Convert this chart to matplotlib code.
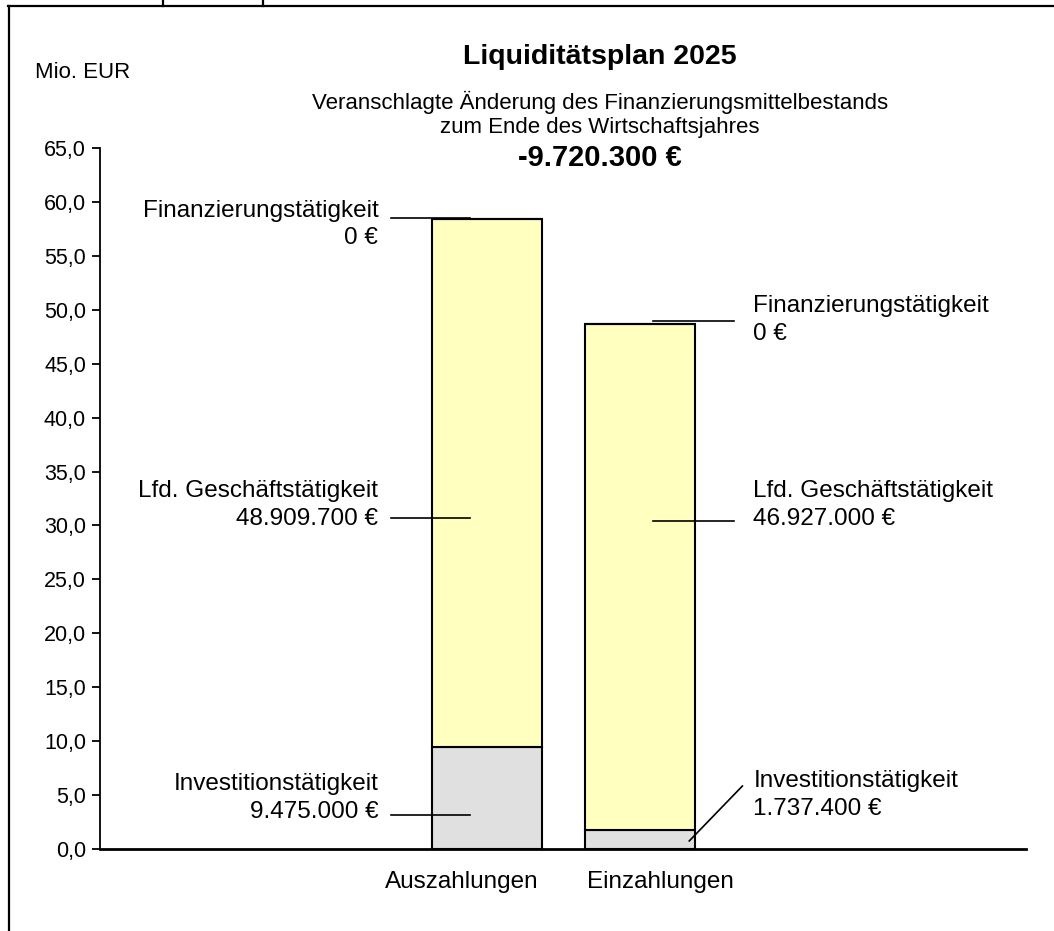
import matplotlib
matplotlib.use("Agg")
import matplotlib.pyplot as plt
from matplotlib.lines import Line2D
import matplotlib.transforms as mtransforms

plt.rcParams['font.family'] = ['Liberation Sans', 'DejaVu Sans']

# ---------------- data ----------------
categories = ['Auszahlungen', 'Einzahlungen']
segment_names = ['Investitionstätigkeit', 'Lfd. Geschäftstätigkeit', 'Finanzierungstätigkeit']
invest = [9.4750, 1.7374]      # Mio. EUR
lfd = [48.9097, 46.9270]       # Mio. EUR
fin = [0.0, 0.0]               # Mio. EUR
yticks = [0, 5, 10, 15, 20, 25, 30, 35, 40, 45, 50, 55, 60, 65]
title = 'Liquiditätsplan 2025'
subtitle = 'Veranschlagte Änderung des Finanzierungsmittelbestands\nzum Ende des Wirtschaftsjahres'
unit_label = 'Mio. EUR'

colors = ['#E0E0E0', '#FFFFC0', '#FFFFC0']


def eur(v_mio):
    s = f"{round(v_mio * 1e6):,}".replace(',', '.')
    return f"{s} €"


def de1(v):
    return f"{v:.1f}".replace('.', ',')


change = (invest[1] + lfd[1] + fin[1]) - (invest[0] + lfd[0] + fin[0])

# ---------------- figure ----------------
W, H = 1054, 931
fig = plt.figure(figsize=(W / 100, H / 100), dpi=100)
ax = fig.add_axes([100 / W, 1 - 849 / H, 926 / W, 701 / H])

x = [0, 1]
width = 0.72
series = [invest, lfd, fin]
bottoms = [0.0, 0.0]
tops = []
for vals, col in zip(series, colors):
    ax.bar(x, vals, width=width, bottom=bottoms, color=col, edgecolor='black',
           linewidth=1.5, zorder=2)
    bottoms = [b + v for b, v in zip(bottoms, vals)]
    tops.append(list(bottoms))

ax.set_xlim(-2.53, 3.52)
ax.set_ylim(0, 65)
ax.set_yticks(yticks)
ax.set_yticklabels([de1(v) for v in yticks], fontsize=15.5)
ax.set_xticks(x)
ax.set_xticklabels(categories, fontsize=17.5)
ax.tick_params(axis='x', length=0, pad=16)
ax.tick_params(axis='y', direction='out', length=6, width=1.3, pad=4)
# Excel-like offset of category labels
offs = [-25, 20]
for lab, o in zip(ax.get_xticklabels(), offs):
    lab.set_transform(lab.get_transform() + mtransforms.ScaledTranslation(o / 100, 0, fig.dpi_scale_trans))

for s in ['top', 'right']:
    ax.spines[s].set_visible(False)
ax.spines['left'].set_linewidth(1.3)
ax.spines['bottom'].set_linewidth(2.0)

# ---------------- data labels with leader lines ----------------
label_fs = 17.5
# (text y-centre, leader y) per segment for left (Auszahlungen) and right (Einzahlungen)
left_text_y = [4.73, 31.9, 57.9]
left_line_y = [3.15, 30.7, tops[2][0] + 0.1]
right_text_y = [5.0, 31.9, 49.05]
right_line_y = [None, 30.4, tops[2][1] + 0.3]

for k, (name, vals) in enumerate(zip(segment_names, series)):
    # left bar
    p = x[0]
    ax.text(p - 0.712, left_text_y[k], f"{name}\n{eur(vals[0])}", ha='right', va='center',
            multialignment='right', fontsize=label_fs, linespacing=1.32)
    ax.plot([p - 0.63, p - 0.11], [left_line_y[k]] * 2, color='black', lw=1.2, zorder=3)
    # right bar
    p = x[1]
    ax.text(p + 0.739, right_text_y[k], f"{name}\n{eur(vals[1])}", ha='left', va='center',
            multialignment='left', fontsize=label_fs, linespacing=1.32)
    if right_line_y[k] is None:
        ax.plot([p + 0.32, p + 0.667], [vals[1] * 0.43, 5.84], color='black', lw=1.2, zorder=3)
    else:
        ax.plot([p + 0.085, p + 0.61], [right_line_y[k]] * 2, color='black', lw=1.2, zorder=3)

# ---------------- titles ----------------
cx = 600 / W
fig.text(cx, 1 - 57 / H, title, ha='center', va='center', fontsize=20.5, fontweight='bold')
fig.text(cx, 1 - 114.5 / H, subtitle, ha='center', va='center', fontsize=16, linespacing=1.15)
fig.text(cx, 1 - 158 / H, eur(change), ha='center', va='center', fontsize=21, fontweight='bold')
fig.text(35 / W, 1 - 73 / H, unit_label, ha='left', va='center', fontsize=16)

# ---------------- outer frame ----------------
ty = 1 - 6 / H
fig.add_artist(Line2D([8 / W, 1], [ty, ty], color='black', lw=1.6, transform=fig.transFigure))
fig.add_artist(Line2D([9 / W, 9 / W], [0, ty], color='black', lw=1.6, transform=fig.transFigure))
for xv in [163 / W, 263 / W]:
    fig.add_artist(Line2D([xv, xv], [ty, 1], color='black', lw=1.6, transform=fig.transFigure))

fig.savefig('out.png', dpi=100)
